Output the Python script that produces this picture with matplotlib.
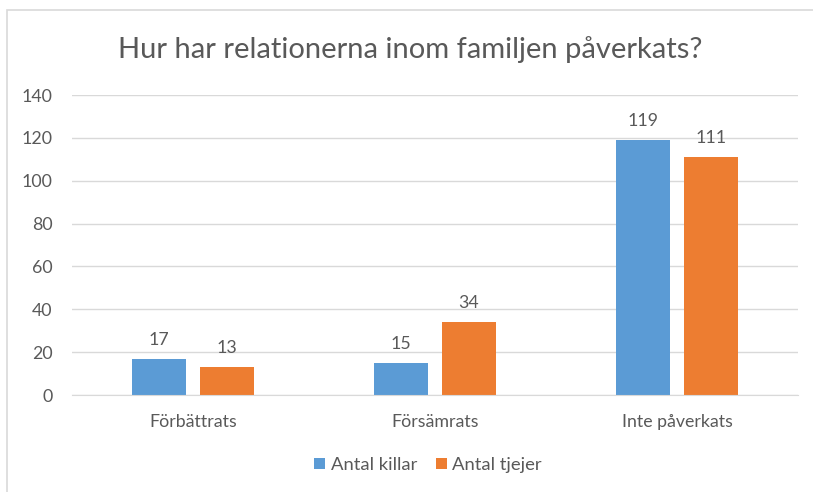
import matplotlib
matplotlib.use("Agg")
import matplotlib.pyplot as plt
import matplotlib.patches as mpatches
import numpy as np

categories = ["Förbättrats", "Försämrats", "Inte påverkats"]
killar = [17, 15, 119]
tjejer = [13, 34, 111]
series_names = ["Antal killar", "Antal tjejer"]
yticks = [0, 20, 40, 60, 80, 100, 120, 140]
title = "Hur har relationerna inom familjen påverkats?"

plt.rcParams['font.family'] = ['Lato', 'DejaVu Sans']
TXT = "#595959"
BLUE = "#5B9BD5"
ORANGE = "#ED7D31"
GRID = "#D9D9D9"

W, H = 813, 492
fig = plt.figure(figsize=(W/100, H/100), dpi=100)
ax = fig.add_axes([72/W, (H-395)/H, (798-72)/W, 300/H])

x = np.arange(len(categories))
bw = 0.223
off = 0.14
b1 = ax.bar(x - off, killar, bw, color=BLUE, label=series_names[0], zorder=3)
b2 = ax.bar(x + off, tjejer, bw, color=ORANGE, label=series_names[1], zorder=3)

for bars, vals in ((b1, killar), (b2, tjejer)):
    for r, v in zip(bars, vals):
        ax.text(r.get_x() + r.get_width()/2, v + 5.0, str(v), ha='center', va='bottom',
                fontsize=12.8, color=TXT)

ax.set_xlim(-0.5, 2.5)
ax.set_ylim(0, 140)
ax.set_yticks(yticks)
ax.set_xticks(x)
ax.set_xticklabels(categories)
ax.tick_params(axis='both', length=0, colors=TXT, labelsize=12.8)
ax.tick_params(axis='y', pad=14)
ax.tick_params(axis='x', pad=14)
ax.grid(axis='y', color=GRID, linewidth=1, zorder=0)
for s in ['top', 'right', 'left']:
    ax.spines[s].set_visible(False)
ax.spines['bottom'].set_color(GRID)
ax.spines['bottom'].set_zorder(4)

fig.text(410/W, 1 - 50/H, title, ha='center', va='center', fontsize=21, color=TXT)

leg = fig.legend(handles=[b1, b2], labels=series_names, loc='center',
                 bbox_to_anchor=(428/W, 1 - 465/H), ncol=2, frameon=False,
                 fontsize=13.3, handlelength=0.6, handleheight=0.6, handletextpad=0.3,
                 columnspacing=1.0, labelcolor=TXT)

border = mpatches.Rectangle((7/W, -0.1), 1.2, 1 - 10/H + 0.1, transform=fig.transFigure,
                            fill=False, edgecolor=GRID, linewidth=1.2, clip_on=False)
fig.patches.append(border)

fig.savefig("out.png", dpi=100)
